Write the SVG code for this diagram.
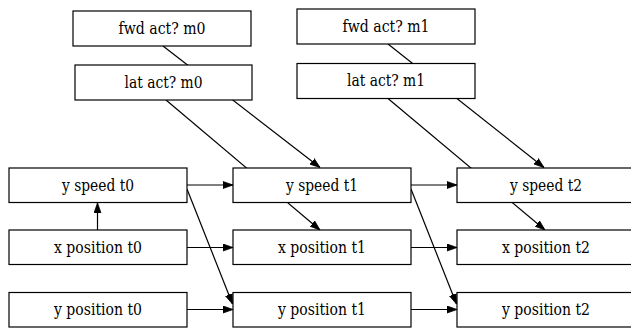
<svg xmlns="http://www.w3.org/2000/svg" width="631" height="328" viewBox="0 0 631 328">
<style>
.node rect{fill:#fff;stroke:#000;stroke-width:1.2}
.node text{font-family:'DejaVu Serif',serif;font-size:16px;text-anchor:middle;fill:#000}
.edges path{fill:none;stroke:#000;stroke-width:1.2}
.arr{marker-end:url(#ah)}
</style>
<defs>
<marker id="ah" markerUnits="userSpaceOnUse" markerWidth="10" markerHeight="8" refX="10" refY="3.5" orient="auto" viewBox="0 0 10 7">
<path d="M0,0 L10,3.5 L0,7 z" fill="#000" stroke="#000" stroke-width="0.8"/>
</marker>
</defs>
<rect width="631" height="328" fill="#fff"/>
<g id="edges" class="edges">
<path class="arr" d="M97.5,230 L97.5,203"/>
<path class="arr" d="M187,185 L233,185"/>
<path class="arr" d="M187,247.5 L233,247.5"/>
<path class="arr" d="M187,309.5 L233,309.5"/>
<path class="arr" d="M187,189 L232.5,304"/>
<path class="arr" d="M411,185 L457,185"/>
<path class="arr" d="M411,247.5 L457,247.5"/>
<path class="arr" d="M411,309.5 L457,309.5"/>
<path class="arr" d="M411,189 L456.5,304"/>
<path class="arr" d="M163,46 L320,167.5"/>
<path class="arr" d="M166,100 L320,230"/>
<path class="arr" d="M388,44 L544,167.5"/>
<path class="arr" d="M388,98.5 L545,230"/>
</g>
<g id="fwd_m0" class="node"><rect x="73" y="11" width="178" height="35"/><text x="162" y="33.5" textLength="87" lengthAdjust="spacingAndGlyphs">fwd act? m0</text></g>
<g id="lat_m0" class="node"><rect x="75" y="65" width="177" height="35"/><text x="163.5" y="87.5" textLength="78" lengthAdjust="spacingAndGlyphs">lat act? m0</text></g>
<g id="fwd_m1" class="node"><rect x="297" y="9" width="178" height="35"/><text x="386" y="31.5" textLength="87" lengthAdjust="spacingAndGlyphs">fwd act? m1</text></g>
<g id="lat_m1" class="node"><rect x="297" y="63.5" width="178" height="35"/><text x="386" y="86" textLength="78" lengthAdjust="spacingAndGlyphs">lat act? m1</text></g>
<g id="yspeed_t0" class="node"><rect x="9" y="168" width="178" height="34.5"/><text x="98" y="190.5" textLength="72" lengthAdjust="spacingAndGlyphs">y speed t0</text></g>
<g id="xpos_t0" class="node"><rect x="9" y="230" width="178" height="34.5"/><text x="98" y="252.5" textLength="88" lengthAdjust="spacingAndGlyphs">x position t0</text></g>
<g id="ypos_t0" class="node"><rect x="9" y="292.5" width="178" height="34.5"/><text x="98" y="315" textLength="88" lengthAdjust="spacingAndGlyphs">y position t0</text></g>
<g id="yspeed_t1" class="node"><rect x="233" y="168" width="178" height="34.5"/><text x="322" y="190.5" textLength="72" lengthAdjust="spacingAndGlyphs">y speed t1</text></g>
<g id="xpos_t1" class="node"><rect x="233" y="230" width="178" height="34.5"/><text x="322" y="252.5" textLength="88" lengthAdjust="spacingAndGlyphs">x position t1</text></g>
<g id="ypos_t1" class="node"><rect x="233" y="292.5" width="178" height="34.5"/><text x="322" y="315" textLength="88" lengthAdjust="spacingAndGlyphs">y position t1</text></g>
<g id="yspeed_t2" class="node"><rect x="457" y="168" width="178" height="34.5"/><text x="546" y="190.5" textLength="72" lengthAdjust="spacingAndGlyphs">y speed t2</text></g>
<g id="xpos_t2" class="node"><rect x="457" y="230" width="178" height="34.5"/><text x="546" y="252.5" textLength="88" lengthAdjust="spacingAndGlyphs">x position t2</text></g>
<g id="ypos_t2" class="node"><rect x="457" y="292.5" width="178" height="34.5"/><text x="546" y="315" textLength="88" lengthAdjust="spacingAndGlyphs">y position t2</text></g>
</svg>
